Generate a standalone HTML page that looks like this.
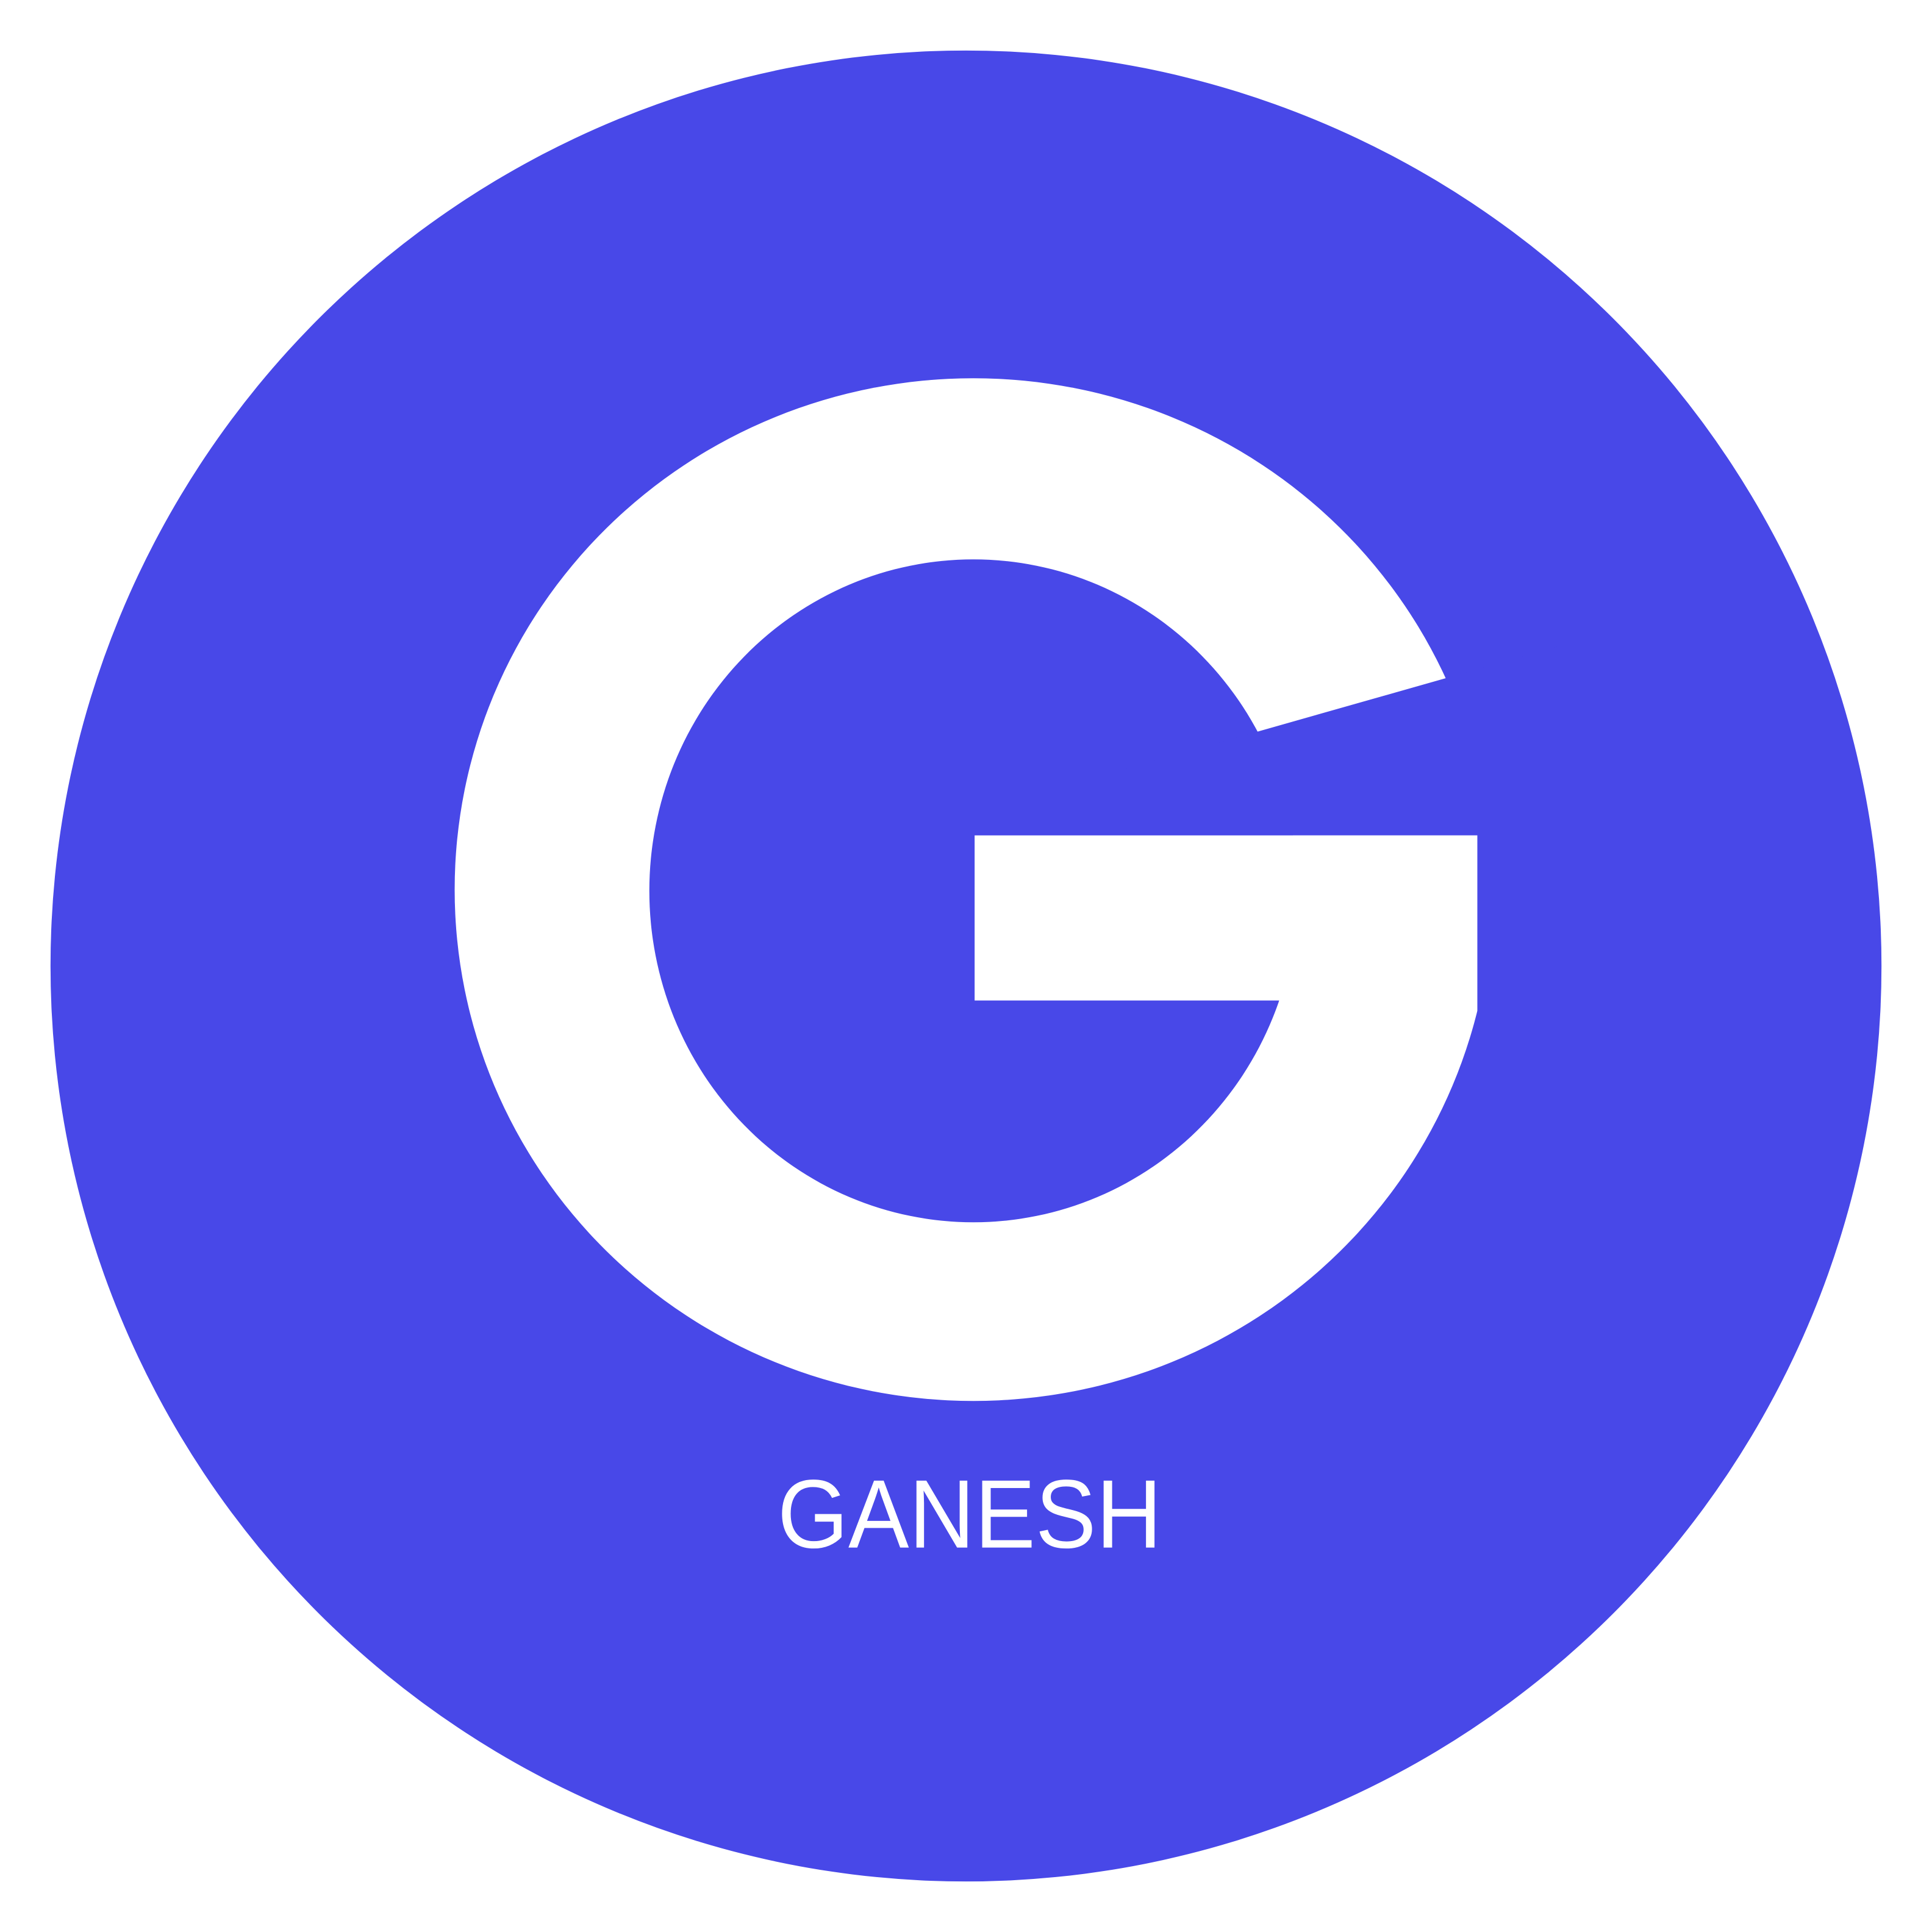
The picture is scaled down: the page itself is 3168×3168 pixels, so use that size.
<!DOCTYPE html>
<html><head><meta charset="utf-8"><style>html,body{margin:0;padding:0;background:#fff}svg{display:block}</style></head>
<body>
<svg width="3168" height="3168" viewBox="0 0 1568 1568" xmlns="http://www.w3.org/2000/svg">
  <circle cx="784" cy="784" r="743" fill="#4848E8"/>
  <g>
    <ellipse cx="790" cy="722" rx="421" ry="415" fill="#fff"/>
    <ellipse cx="790" cy="723" rx="263" ry="269" fill="#4848E8"/>
    <polygon points="900,628 1270,523 1270,678 791,678 791,628" fill="#4848E8"/>
    <rect x="791" y="678" width="408" height="134" fill="#fff"/>
    <rect x="1199" y="670" width="40" height="160" fill="#4848E8"/>
  </g>
  <text x="787" y="1256" text-anchor="middle" font-family="Liberation Sans, sans-serif" font-size="79" fill="#fff" textLength="312" lengthAdjust="spacingAndGlyphs">GANESH</text>
</svg>
</body></html>
